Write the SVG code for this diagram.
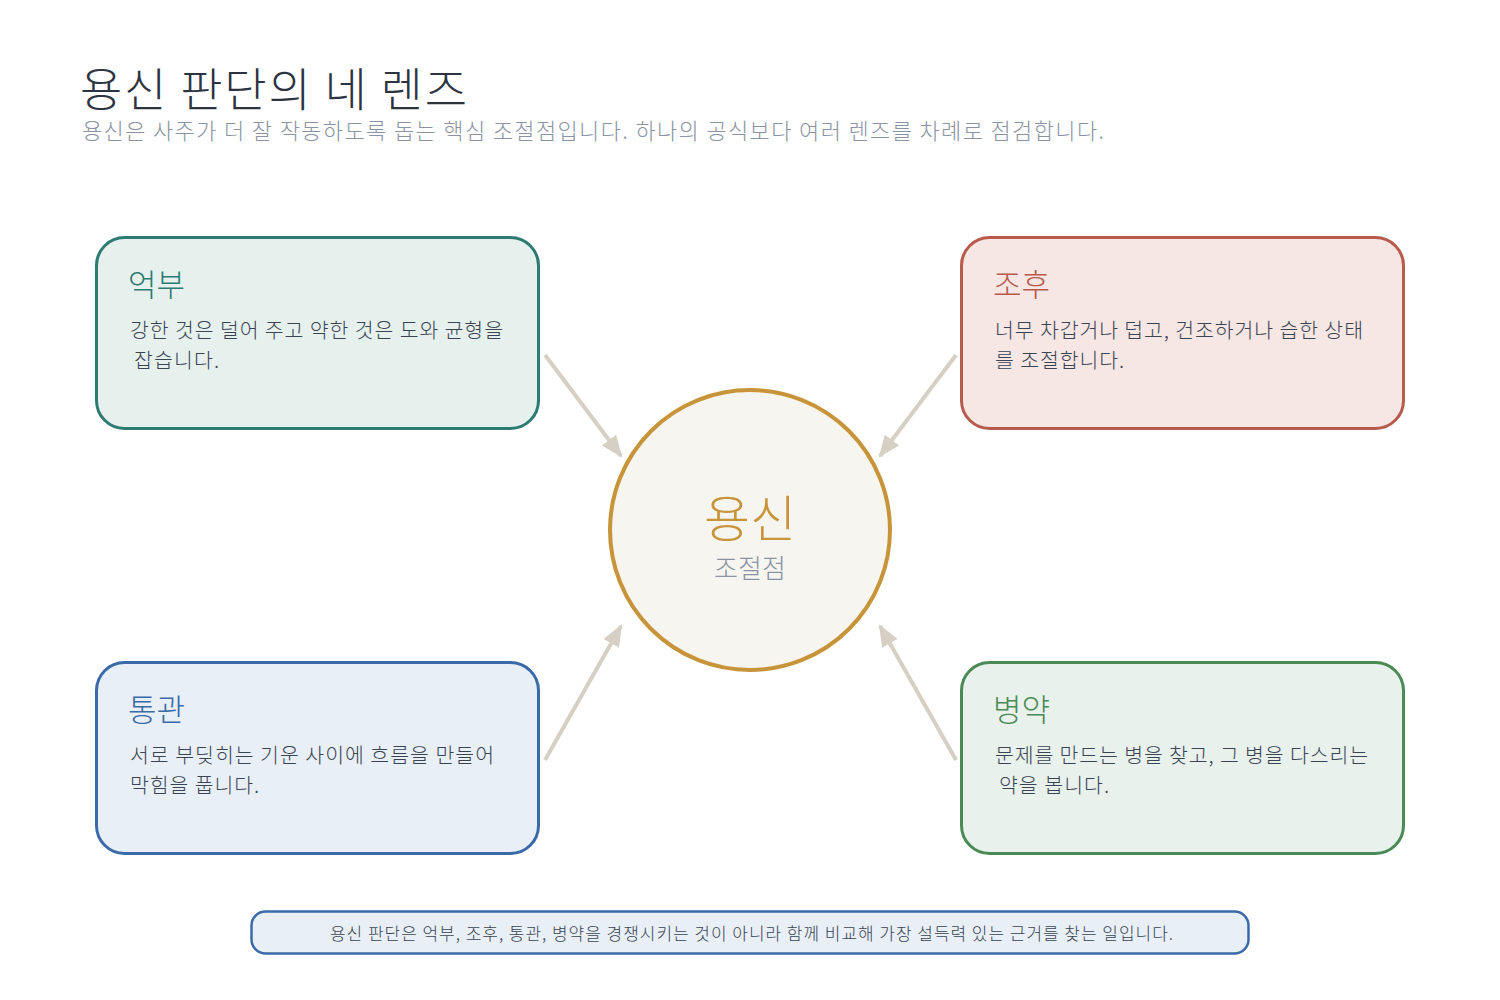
<svg xmlns="http://www.w3.org/2000/svg" width="1500" height="1000" viewBox="0 0 1500 1000">
<defs>
<style>
text{font-family:"Noto Sans CJK KR","Noto Sans",sans-serif;}
.title{font-size:46px;fill:#2c3441;font-weight:300;}
.sub{font-size:22px;fill:#8a93a3;font-weight:300;}
.box{stroke-width:3;}
.h{font-size:31px;font-weight:300;}
.body{font-size:20.5px;fill:#3a4352;font-weight:300;}
.conn{stroke:#d6d0c4;stroke-width:4;fill:none;}
</style>
<marker id="ah" viewBox="0 0 22 18" refX="20" refY="9" markerWidth="22" markerHeight="18" markerUnits="userSpaceOnUse" orient="auto">
<path d="M0,0 L22,9 L0,18 z" fill="#d6d0c4"/>
</marker>
</defs>
<rect width="1500" height="1000" fill="#ffffff"/>
<g id="header">
<text class="title" x="80" y="106" textLength="387" lengthAdjust="spacing">용신 판단의 네 렌즈</text>
<text class="sub" x="82" y="139" textLength="1022" lengthAdjust="spacing">용신은 사주가 더 잘 작동하도록 돕는 핵심 조절점입니다. 하나의 공식보다 여러 렌즈를 차례로 점검합니다.</text>
</g>
<g id="connectors">
<line class="conn" x1="545" y1="355" x2="621" y2="456" marker-end="url(#ah)"/>
<line class="conn" x1="956" y1="355" x2="880" y2="456" marker-end="url(#ah)"/>
<line class="conn" x1="545" y1="760" x2="621" y2="626" marker-end="url(#ah)"/>
<line class="conn" x1="956" y1="760" x2="880" y2="626" marker-end="url(#ah)"/>
</g>
<g id="node-eokbu">
<rect class="box" x="96.5" y="237.5" width="442" height="191" rx="28" fill="#e6f1ee" stroke="#2e7b73"/>
<text class="h" x="128" y="296" fill="#2e7b73">억부</text>
<text class="body" x="130" y="338" textLength="373" lengthAdjust="spacing">강한 것은 덜어 주고 약한 것은 도와 균형을</text>
<text class="body" x="134" y="368" textLength="85" lengthAdjust="spacing">잡습니다.</text>
</g>
<g id="node-johu">
<rect class="box" x="961.5" y="237.5" width="442" height="191" rx="28" fill="#f6e6e4" stroke="#b85a4c"/>
<text class="h" x="993" y="296" fill="#b85a4c">조후</text>
<text class="body" x="995" y="338" textLength="368" lengthAdjust="spacing">너무 차갑거나 덥고, 건조하거나 습한 상태</text>
<text class="body" x="995" y="368" textLength="129" lengthAdjust="spacing">를 조절합니다.</text>
</g>
<g id="node-tonggwan">
<rect class="box" x="96.5" y="662.5" width="442" height="191" rx="28" fill="#e8eff7" stroke="#3a6aa8"/>
<text class="h" x="128" y="721" fill="#3a6aa8">통관</text>
<text class="body" x="130" y="763" textLength="364" lengthAdjust="spacing">서로 부딪히는 기운 사이에 흐름을 만들어</text>
<text class="body" x="130" y="793" textLength="129" lengthAdjust="spacing">막힘을 풉니다.</text>
</g>
<g id="node-byeongyak">
<rect class="box" x="961.5" y="662.5" width="442" height="191" rx="28" fill="#e8f1ec" stroke="#4a8a54"/>
<text class="h" x="993" y="721" fill="#4a8a54">병약</text>
<text class="body" x="995" y="763" textLength="373" lengthAdjust="spacing">문제를 만드는 병을 찾고, 그 병을 다스리는</text>
<text class="body" x="999" y="793" textLength="110" lengthAdjust="spacing">약을 봅니다.</text>
</g>
<g id="node-center">
<circle cx="750" cy="530" r="140" fill="#f6f5f0" stroke="#c8943a" stroke-width="4"/>
<text x="750" y="537" text-anchor="middle" font-size="50" font-weight="300" fill="#c8943a">용신</text>
<text x="750" y="578" text-anchor="middle" font-size="26" font-weight="300" fill="#8a93a3">조절점</text>
</g>
<g id="footer">
<rect x="251.5" y="911.5" width="997" height="42" rx="14" fill="#e8eff7" stroke="#3a6aa8" stroke-width="2.5"/>
<text x="330" y="940" font-size="17" fill="#3a4352" font-weight="300" textLength="843" lengthAdjust="spacing">용신 판단은 억부, 조후, 통관, 병약을 경쟁시키는 것이 아니라 함께 비교해 가장 설득력 있는 근거를 찾는 일입니다.</text>
</g>
</svg>
